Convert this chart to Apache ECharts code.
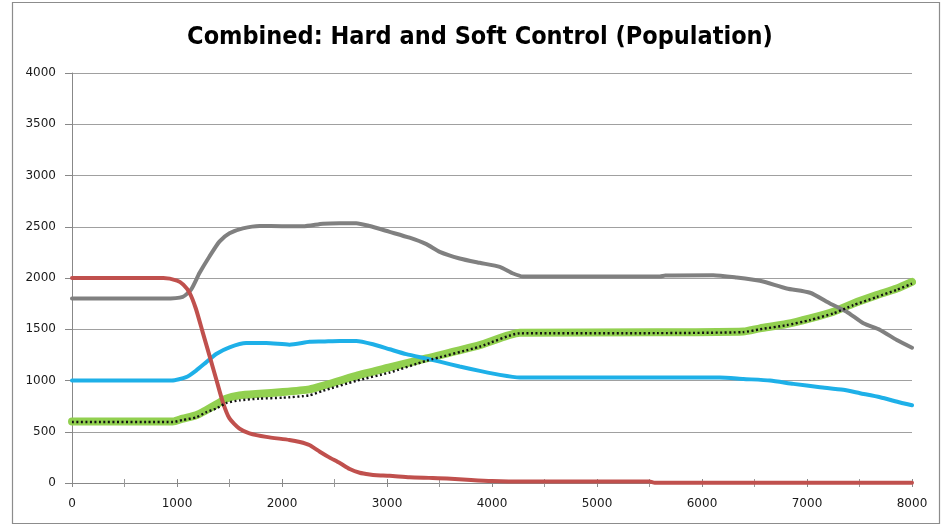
<!DOCTYPE html>
<html>
<head>
<meta charset="utf-8">
<script src="https://cdn.jsdelivr.net/npm/echarts@6/dist/echarts.min.js"></script>
<style>
  html, body { margin: 0; padding: 0; background: #fff; }
  #chart { width: 943px; height: 530px; }
</style>
</head>
<body>
<div id="chart"></div>
<script>
// Population over time under combined hard and soft control
const chartTitle = 'Combined: Hard and Soft Control (Population)';

const redX = [0, 870, 1000, 1060, 1120, 1180, 1245, 1310, 1373, 1436, 1500, 1595, 1690, 1850, 2070, 2170, 2260, 2360, 2450, 2550, 2645, 2740, 2835, 2900, 3025, 3215, 3400, 3570, 3800, 4000, 4300, 5500, 5550, 8000];
const redY = [2000, 2000, 1975, 1935, 1855, 1700, 1470, 1240, 1015, 790, 630, 530, 485, 450, 420, 400, 370, 305, 250, 195, 136, 100, 82, 75, 70, 55, 50, 45, 30, 20, 15, 15, 3, 3];

const grayX = [0, 880, 1055, 1134, 1214, 1309, 1404, 1500, 1627, 1786, 2000, 2200, 2389, 2550, 2707, 2834, 3025, 3215, 3375, 3502, 3692, 3883, 4074, 4201, 4296, 5600, 5650, 6107, 6330, 6552, 6806, 7029, 7219, 7378, 7537, 7696, 7855, 8000];
const grayY = [1800, 1800, 1816, 1887, 2048, 2210, 2355, 2436, 2484, 2508, 2505, 2505, 2530, 2535, 2535, 2507, 2450, 2393, 2330, 2255, 2190, 2148, 2109, 2044, 2015, 2015, 2025, 2028, 2005, 1973, 1898, 1856, 1752, 1671, 1558, 1493, 1395, 1320];

const blueX = [0, 950, 1087, 1182, 1277, 1373, 1500, 1659, 1849, 2071, 2262, 2389, 2550, 2707, 2866, 3025, 3184, 3375, 3502, 3692, 3883, 4074, 4265, 6170, 6394, 6648, 6870, 7124, 7346, 7505, 7696, 7887, 8000];
const blueY = [1000, 1000, 1032, 1097, 1177, 1258, 1323, 1365, 1365, 1350, 1377, 1380, 1386, 1386, 1354, 1305, 1257, 1214, 1184, 1136, 1094, 1055, 1030, 1030, 1015, 1000, 967, 935, 909, 876, 837, 785, 758];

const greenX = [0, 960, 1055, 1182, 1277, 1373, 1468, 1595, 1786, 2008, 2262, 2389, 2707, 3025, 3375, 3883, 4265, 5570, 6394, 6552, 6806, 7029, 7251, 7442, 7664, 7855, 8000];
const greenY = [600, 600, 628, 661, 710, 765, 823, 855, 871, 887, 913, 948, 1046, 1127, 1215, 1345, 1467, 1470, 1478, 1509, 1551, 1606, 1671, 1752, 1833, 1898, 1963];

const dotX = [0, 960, 1055, 1182, 1277, 1373, 1468, 1595, 1786, 2008, 2262, 2389, 2707, 3025, 3375, 3883, 4265, 5570, 6394, 6552, 6806, 7029, 7251, 7442, 7664, 7855, 8000];
const dotY = [595, 595, 615, 640, 690, 726, 780, 806, 823, 832, 855, 899, 997, 1078, 1192, 1330, 1460, 1462, 1472, 1500, 1540, 1590, 1655, 1735, 1815, 1885, 1945];

const pairs = (xs, ys) => xs.map((x, i) => [x, ys[i]]);

const labelFont = {
  fontFamily: '"DejaVu Sans", sans-serif',
  fontSize: 12,
  color: '#1a1a1a',
  formatter: v => String(v)
};

function lineSeries(data, color, width, extra) {
  return Object.assign({
    type: 'line',
    data: data,
    showSymbol: false,
    smooth: 0.2,
    animation: false,
    lineStyle: { color: color, width: width, cap: 'round', join: 'round' }
  }, extra || {});
}

const chart = echarts.init(document.getElementById('chart'), null, { renderer: 'canvas' });

chart.setOption({
  backgroundColor: '#ffffff',
  animation: false,
  graphic: [{
    type: 'rect',
    silent: true,
    shape: { x: 12.5, y: 2.5, width: 927, height: 521 },
    style: { fill: 'none', stroke: '#8c8c8c', lineWidth: 1.2 }
  }, {
    type: 'text',
    silent: true,
    x: 480,
    y: 25,
    style: {
      text: chartTitle,
      textAlign: 'center',
      textVerticalAlign: 'top',
      fill: '#000',
      font: 'bold 25px "Liberation Sans Narrow", "DejaVu Sans Condensed", sans-serif'
    }
  }],
  grid: { left: 72, right: 31, top: 73, bottom: 47 },
  xAxis: [{
    type: 'value',
    min: 0, max: 8000, interval: 1000,
    axisLine: { show: true, lineStyle: { color: '#888', width: 1 } },
    axisTick: { show: true, length: 4, lineStyle: { color: '#888' } },
    minorTick: { show: true, splitNumber: 2, length: 4, lineStyle: { color: '#999' } },
    splitLine: { show: false },
    axisLabel: Object.assign({ margin: 15 }, labelFont)
  }, {
    type: 'value',
    position: 'bottom',
    min: 0, max: 8000, interval: 1000,
    axisLine: { show: false },
    axisTick: { show: true, inside: true, length: 4, lineStyle: { color: '#888' } },
    minorTick: { show: true, splitNumber: 2, length: 4, lineStyle: { color: '#999' } },
    splitLine: { show: false },
    axisLabel: { show: false }
  }],
  yAxis: {
    type: 'value',
    min: 0, max: 4000, interval: 500,
    axisLine: { show: true, lineStyle: { color: '#888', width: 1 } },
    axisTick: { show: true, length: 7, lineStyle: { color: '#888' } },
    splitLine: { show: true, lineStyle: { color: '#a0a0a0', width: 1 } },
    axisLabel: Object.assign({ margin: 16 }, labelFont)
  },
  series: [
    lineSeries(pairs(greenX, greenY), '#92d050', 8, { z: 2 }),
    lineSeries(pairs(dotX, dotY), '#111', 2.4, { z: 6, lineStyle: { color: '#111', width: 2.4, type: [2, 2.5], cap: 'butt' } }),
    lineSeries(pairs(blueX, blueY), '#1eb0e8', 4, { z: 3 }),
    lineSeries(pairs(grayX, grayY), '#808080', 4, { z: 4 }),
    lineSeries(pairs(redX, redY), '#c0504d', 4, { z: 5 })
  ]
});
</script>
</body>
</html>
